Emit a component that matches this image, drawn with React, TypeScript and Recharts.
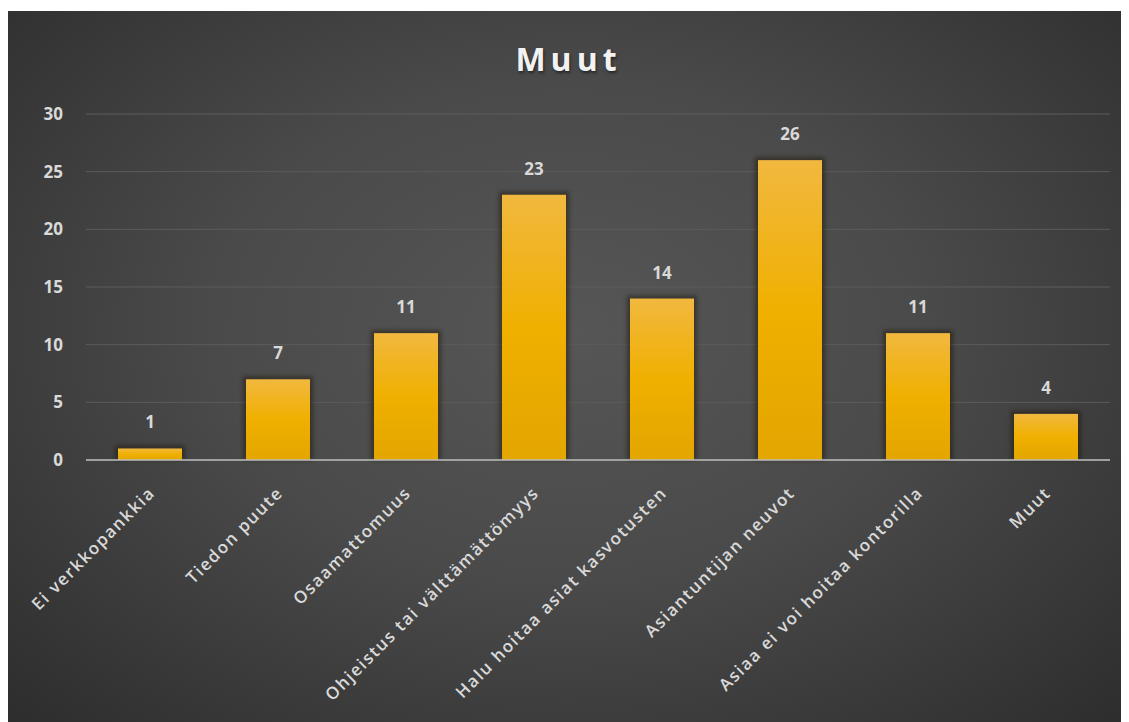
import { BarChart, Bar, XAxis, YAxis, CartesianGrid, LabelList } from 'recharts';

const categories = [
  'Ei verkkopankkia',
  'Tiedon puute',
  'Osaamattomuus',
  'Ohjeistus tai välttämättömyys',
  'Halu hoitaa asiat kasvotusten',
  'Asiantuntijan neuvot',
  'Asiaa ei voi hoitaa kontorilla',
  'Muut',
];
const counts = [1, 7, 11, 23, 14, 26, 11, 4];
const yTicks = [0, 5, 10, 15, 20, 25, 30];

const data = categories.map((name, i) => ({ name, value: counts[i] }));

const labelColor = '#d9d9d9';
const font = '"Open Sans", sans-serif';

function AngledTick(props: any) {
  const { x, y, payload } = props;
  return (
    <g transform={`translate(${x + 6},${y + 26})`}>
      <text
        x={0}
        y={0}
        textAnchor="end"
        transform="rotate(-45)"
        fill={labelColor}
        fontSize={17}
        fontWeight={600}
        fontFamily={font}
        letterSpacing={1.6}
      >
        {payload.value}
      </text>
    </g>
  );
}

// gold bar with a soft dark halo like the original
function ShadowBar(props: any) {
  const { x, y, width, height, index } = props;
  const gid = `gold-${index}`;
  return (
    <g>
      <defs>
        <linearGradient id={gid} x1="0" y1="0" x2="0" y2="1">
          <stop offset="0%" stopColor="#f1b83f" />
          <stop offset="50%" stopColor="#f0b000" />
          <stop offset="100%" stopColor="#e3a500" />
        </linearGradient>
      </defs>
      <rect
        x={x - 3}
        y={y - 3}
        width={width + 6}
        height={height + 3}
        fill="#1a1000"
        opacity={0.45}
        style={{ filter: 'blur(2px)' }}
      />
      <rect x={x} y={y} width={width} height={height} fill={`url(#${gid})`} />
    </g>
  );
}

export default function App() {
  return (
    <div
      style={{
        position: 'relative',
        width: 1121,
        height: 711,
        marginTop: 3,
        background: 'radial-gradient(ellipse at 50% 45%, #565656 0%, #4a4a4a 45%, #2d2d2d 100%)',
        fontFamily: font,
      }}
    >
      <div
        style={{
          position: 'absolute',
          top: 26,
          left: 0,
          width: '100%',
          textAlign: 'center',
          color: '#f2f2f2',
          fontSize: 32,
          fontWeight: 700,
          letterSpacing: 5,
          textShadow: '1px 2px 3px rgba(0,0,0,0.5)',
        }}
      >
        Muut
      </div>
      <BarChart
        width={1121}
        height={711}
        data={data}
        margin={{ top: 103, right: 19, left: 18, bottom: 0 }}
        barSize={64}
      >
        <CartesianGrid vertical={false} stroke="#5c5c5c" strokeWidth={1} />
        <XAxis
          dataKey="name"
          interval={0}
          height={262}
          tick={<AngledTick />}
          tickLine={false}
          axisLine={{ stroke: '#bdbdbd', strokeWidth: 1.5 }}
        />
        <YAxis
          width={60}
          domain={[0, 30]}
          ticks={yTicks}
          interval={0}
          axisLine={false}
          tickLine={false}
          tickMargin={17}
          tick={{ fill: labelColor, fontSize: 17, fontWeight: 700, fontFamily: font }}
        />
        <Bar dataKey="value" fill="#f0b000" shape={<ShadowBar />} isAnimationActive={false}>
          <LabelList
            dataKey="value"
            position="top"
            offset={20}
            fill={labelColor}
            fontSize={17}
            fontWeight={700}
            fontFamily={font}
          />
        </Bar>
      </BarChart>
    </div>
  );
}
